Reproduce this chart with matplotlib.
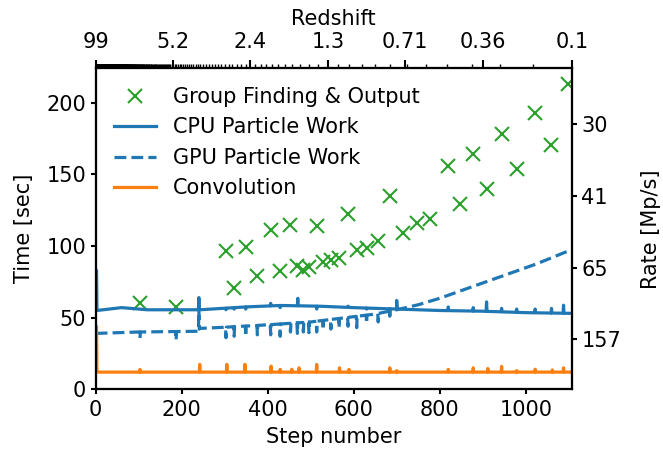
import numpy as np
import matplotlib
matplotlib.use("Agg")
import matplotlib.pyplot as plt

# ---------------- data ----------------
group_steps = [103, 187, 303, 322, 349, 376, 407, 429, 453, 469, 483, 496, 514, 529, 547,
               566, 587, 607, 630, 657, 684, 714, 747, 777, 820, 847, 878, 909, 944, 979,
               1022, 1060, 1099]
group_time = [60.3, 57.1, 96.5, 71.0, 99.4, 78.9, 111.4, 82.6, 115.0, 86.1, 83.1, 85.4, 114.1,
              88.9, 90.0, 91.6, 122.6, 97.0, 98.9, 103.3, 134.6, 109.1, 116.0, 119.1, 155.5,
              129.5, 163.9, 140.0, 178.3, 153.9, 192.6, 170.8, 213.1]

cpu_knot_steps = [0, 2, 3, 60, 120, 238, 242, 350, 430, 520, 600, 700, 800, 900, 1000, 1107]
cpu_knot_time = [83, 83, 55, 57, 55.5, 55.5, 55.5, 57.5, 58.5, 58, 57, 56, 55, 54.5, 53.5, 53]
cpu_spike_steps = [240, 303, 322, 349, 407, 429, 470, 514, 587, 630, 684, 700, 820, 878, 909,
                   944, 979, 1022, 1060, 1088]
cpu_spike_time = [64, 55.5, 56, 56, 60, 57, 63.5, 56, 58, 56, 51, 62, 57.5, 57, 61, 56.5, 56,
                  56, 56.5, 58.7]

gpu_knot_steps = [0, 100, 238, 242, 300, 400, 500, 568, 650, 700, 750, 800, 870, 950, 1025, 1107]
gpu_knot_time = [39, 40, 40.5, 42.5, 43.3, 45, 47, 49.5, 52.5, 55.5, 59, 63.5, 71, 79.5, 87.5, 97.5]
gpu_spike_steps = [103, 187, 240, 303, 322, 349, 376, 407, 429, 453, 469, 483, 496, 514, 529,
                   547, 566, 587, 607, 630, 657]
gpu_spike_time = [35.5, 34.3, 56, 36, 37, 37, 38, 38, 37, 40, 39, 40, 39.5, 40, 41.5, 42, 43,
                  44, 43, 46, 47]

conv_knot_steps = [0, 2, 3, 1107]
conv_knot_time = [44, 44, 12, 12]
conv_spike_steps = [103, 242, 305, 347, 408, 429, 456, 473, 514, 567, 589, 684, 700, 820, 878,
                    912, 944, 979, 1022, 1062, 1088]
conv_spike_time = [13.9, 17.4, 17.4, 17.4, 16.2, 13.9, 14, 15, 17.4, 15, 13.9, 15, 13, 13.9, 15,
                   14.5, 16, 13, 14, 13.5, 15]

rate_tick_times = [35, 85, 135, 185]
n_particles_mp = 5500

redshift_tick_steps = [0, 180, 360, 540, 720, 900, 1107]
redshift_tick_labels = ['99', '5.2', '2.4', '1.3', '0.71', '0.36', '0.1']

n_steps = 1107


def build(ks, kv, ss, sv):
    ks = np.asarray(ks, float)
    kv = np.asarray(kv, float)
    xs = list(ks)
    ys = list(kv)
    for s, v in zip(ss, sv):
        xs += [s - 1, s, s + 1]
        ys += [np.interp(s - 1, ks, kv), v, np.interp(s + 1, ks, kv)]
    xs = np.asarray(xs)
    ys = np.asarray(ys)
    o = np.argsort(xs, kind="stable")
    return xs[o], ys[o]


plt.rcParams.update({
    "font.size": 15,
    "axes.linewidth": 1.5,
    "xtick.major.width": 1.5,
    "ytick.major.width": 1.5,
    "xtick.minor.width": 1.0,
})

fig = plt.figure(figsize=(6.63, 4.53), dpi=100)
ax = fig.add_axes([0.1443, 0.1406, 0.8623 - 0.1443, 0.8492 - 0.1406])

blue = "#1f77b4"
orange = "#ff7f0e"
green = "#2ca02c"
lw = 2.3

ax.plot(group_steps, group_time, "x", color=green, ms=10, mew=1.5,
        label="Group Finding & Output")
x, y = build(cpu_knot_steps, cpu_knot_time, cpu_spike_steps, cpu_spike_time)
ax.plot(x, y, "-", color=blue, lw=lw, label="CPU Particle Work")
x, y = build(gpu_knot_steps, gpu_knot_time, gpu_spike_steps, gpu_spike_time)
ax.plot(x, y, "--", color=blue, lw=lw, label="GPU Particle Work")
x, y = build(conv_knot_steps, conv_knot_time, conv_spike_steps, conv_spike_time)
ax.plot(x, y, "-", color=orange, lw=lw, label="Convolution")

ax.set_xlim(0, n_steps)
ax.set_ylim(0, 224)
ax.set_xticks([0, 200, 400, 600, 800, 1000])
ax.set_yticks([0, 50, 100, 150, 200])
ax.tick_params(axis="x", pad=4.5)
ax.set_xlabel("Step number", labelpad=5)
ax.set_ylabel("Time [sec]", labelpad=9)
ax.legend(loc="upper left", frameon=False)

# right axis: rate
ax2 = ax.twinx()
ax2.set_ylim(ax.get_ylim())
ax2.set_yticks(rate_tick_times)
ax2.set_yticklabels([f"{n_particles_mp / t:.0f}" for t in rate_tick_times])
ax2.set_ylabel("Rate [Mp/s]", labelpad=14)

# top axis: redshift
ax3 = ax.twiny()
ax3.set_xlim(ax.get_xlim())
ax3.set_xticks(redshift_tick_steps)
ax3.set_xticklabels(redshift_tick_labels)
z_major = np.array([float(s) for s in redshift_tick_labels])
a_major = 1.0 / (1.0 + z_major)
z_minor = np.arange(0.2, 99.0, 0.1)
a_minor = 1.0 / (1.0 + z_minor)
minor_steps = np.interp(a_minor, a_major, redshift_tick_steps)
ax3.set_xticks(minor_steps, minor=True)
ax3.tick_params(axis="x", which="major", length=6, pad=6)
ax3.tick_params(axis="x", which="minor", length=3)
ax3.set_xlabel("Redshift", labelpad=5)

fig.savefig("out.png", dpi=100)
